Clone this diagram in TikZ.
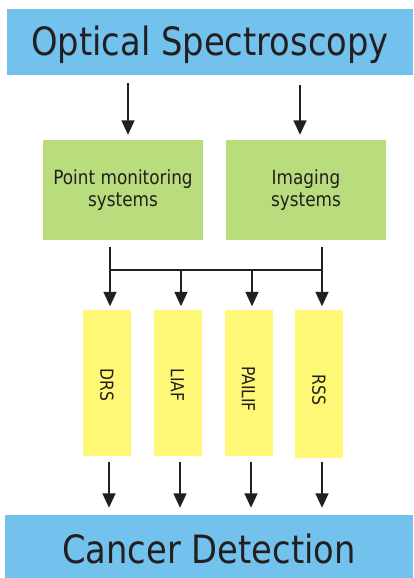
\documentclass[tikz,border=0pt]{standalone}
\usepackage{fontspec}
\setmainfont{DejaVu Sans}[FakeStretch=0.865]
\usetikzlibrary{arrows.meta,calc}
\definecolor{skyb}{RGB}{115,194,238}
\definecolor{leaf}{RGB}{185,220,125}
\definecolor{lemon}{RGB}{255,248,118}
\definecolor{ink}{RGB}{35,31,32}
\begin{document}
\begin{tikzpicture}[x=1pt,y=-1pt,
  bigbox/.style={fill=skyb,draw=none,minimum width=#1,minimum height=66pt,inner sep=0pt,text=ink,font=\fontsize{39}{44}\selectfont,text depth=0pt},
  greenbox/.style={fill=leaf,draw=none,minimum width=160pt,minimum height=100pt,inner sep=0pt,text=ink,align=center,font=\fontsize{19.5}{22}\selectfont},
  yelbox/.style={fill=lemon,draw=none,minimum width=48pt,minimum height=146pt,inner sep=0pt},
  ylabel/.style={rotate=-90,text=ink,font=\fontsize{18}{20}\selectfont,inner sep=0pt},
  arr/.style={draw=ink,line width=1.7pt,-{Triangle[width=13pt,length=14.5pt]}},
  ln/.style={draw=ink,line width=1.7pt}]
\useasboundingbox (0,0) rectangle (413,578);
% top and bottom bars
\node[bigbox=406pt,text height=28pt] (top) at (210,42) {Optical Spectroscopy};
\node[bigbox=408pt,minimum height=63pt,text height=33pt] (bot) at (209,546.5) {Cancer Detection};
% green boxes
\node[greenbox] (pm) at (123,190) {Point monitoring\\systems};
\node[greenbox] (im) at (306,190) {Imaging\\systems};
% yellow boxes
\node[yelbox] (drs) at (107,382.5) {};
\node[yelbox] (liaf) at (177.5,382.5) {};
\node[yelbox] (pailif) at (248.5,382.5) {};
\node[yelbox,minimum height=148pt] (rss) at (319,383.5) {};
\node[ylabel] (drsl) at (107,385) {DRS};
\node[ylabel] (liafl) at (177.5,385) {LIAF};
\node[ylabel] (pailifl) at (248.5,389) {PAILIF};
\node[ylabel] (rssl) at (319,390) {RSS};
% arrows from top bar
\coordinate (t1) at (128,83);
\coordinate (t2) at (300,85);
\draw[arr] (t1) -- (t1 |- pm.north) [shorten >=5pt];
\draw[arr] (t2) -- (t2 |- im.north) [shorten >=5pt];
% tree
\coordinate (s1) at (110,247);
\coordinate (s2) at (322,247);
\coordinate (h1) at (110,270);
\coordinate (h2) at (181,270);
\coordinate (h3) at (252,270);
\coordinate (h4) at (322,270);
\draw[ln] (s1) -- (h1) -- (h4) -- (s2);
\draw[arr,shorten >=3pt] (h1) -- (h1 |- drs.north);
\draw[arr,shorten >=3pt] (h2) -- (h2 |- liaf.north);
\draw[arr,shorten >=3pt] (h3) -- (h3 |- pailif.north);
\draw[arr,shorten >=3pt] (h4) -- (h4 |- rss.north);
% arrows to bottom
\coordinate (b1) at (109,462);
\coordinate (b2) at (180,462);
\coordinate (b3) at (251,462);
\coordinate (b4) at (322,462);
\draw[arr,shorten >=7pt] (b1) -- (b1 |- bot.north);
\draw[arr,shorten >=7pt] (b2) -- (b2 |- bot.north);
\draw[arr,shorten >=7pt] (b3) -- (b3 |- bot.north);
\draw[arr,shorten >=7pt] (b4) -- (b4 |- bot.north);
\end{tikzpicture}
\end{document}
